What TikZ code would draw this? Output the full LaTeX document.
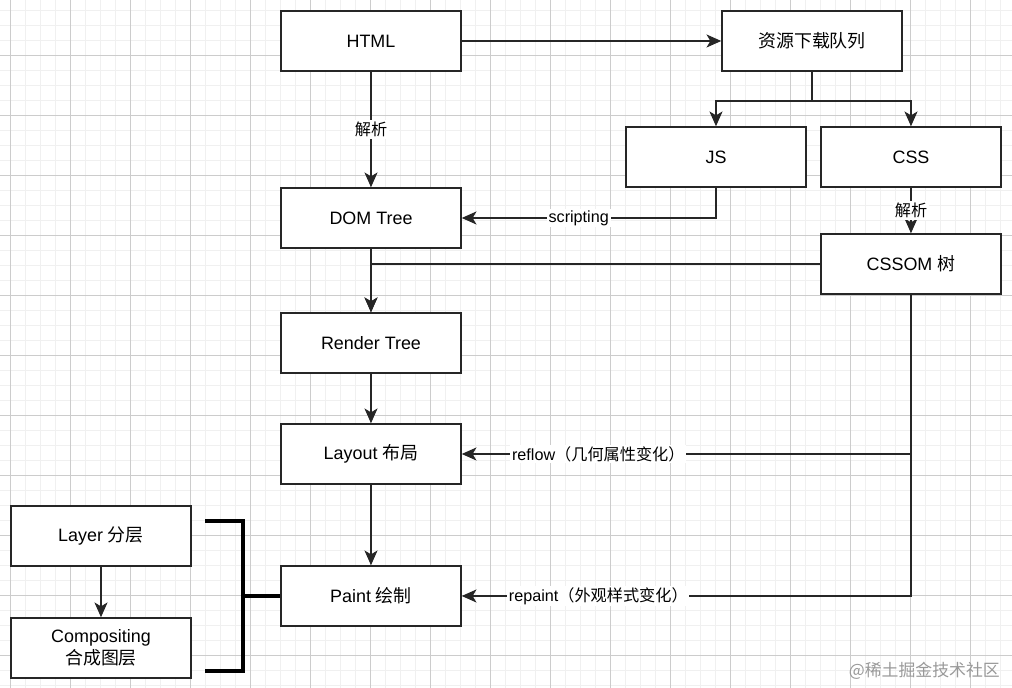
\documentclass[tikz,border=0pt]{standalone}
\usepackage{fontspec}
\setmainfont{Liberation Sans}
\newfontfamily\cjk{Noto Sans CJK SC}
\usetikzlibrary{calc}
\usetikzlibrary{arrows.meta}

\begin{document}
\begin{tikzpicture}[
		x=0.02cm, y=-0.02cm,
		>={Stealth[length=8.4pt,width=7.4pt,inset=2.2pt]},
		box/.style={draw=black!85, line width=0.85pt, fill=white, minimum width=3.6cm, minimum height=1.2cm, align=center, font=\fontsize{10.2pt}{12.5pt}\selectfont},
		flow/.style={draw=black!85, line width=0.85pt},
		tag/.style={fill=white, inner sep=1pt, font=\fontsize{9.2pt}{11pt}\selectfont},
		bracket/.style={black, line width=1.9pt},
		minor/.style={black!6, line width=0.5pt},
		major/.style={black!20, line width=0.5pt},
	]
	\useasboundingbox (0,0) rectangle (1012,688);
	\fill[white] (0,0) rectangle (1012,688);
	\foreach \i in {0,...,66} \draw[minor] (10+15*\i,0) -- (10+15*\i,688);
	\foreach \j in {0,...,45} \draw[minor] (0,10+15*\j) -- (1012,10+15*\j);
	\foreach \i in {0,...,16} \draw[major] (10+60*\i,0) -- (10+60*\i,688);
	\foreach \j in {1,...,11} \draw[major] (0,-5+60*\j) -- (1012,-5+60*\j);
	\node[box] (html) at (371,41) {HTML};
	\node[box] (queue) at (812,41) {\cjk 资源下载队列};
	\node[box] (js) at (716,157) {JS};
	\node[box] (css) at (911,157) {CSS};
	\node[box] (dom) at (371,218) {DOM Tree};
	\node[box] (cssom) at (911,264) {CSSOM {\cjk 树}};
	\node[box] (render) at (371,343) {Render Tree};
	\node[box] (layout) at (371,454) {Layout {\cjk 布局}};
	\node[box] (paint) at (371,596) {Paint {\cjk 绘制}};
	\node[box] (layer) at (101,536) {Layer {\cjk 分层}};
	\node[box] (comp) at (101,648) {Compositing\\{\cjk 合成图层}};
	\coordinate (split) at (812,101);
	\coordinate (fork) at (911,454);
	\coordinate (bt) at (205,521);
	\coordinate (bb) at (205,671);
	\coordinate (bm) at (243,596);
	\draw[flow,->] (html) -- (queue);
	\draw[flow,->] (html) -- node[tag] {\cjk 解析} (dom);
	\draw[flow] (queue) -- (split);
	\draw[flow,->] (split) -| (js);
	\draw[flow,->] (split) -| (css);
	\draw[flow,->] (js) |- node[tag,pos=0.77] {scripting} (dom);
	\draw[flow,->] (css) -- node[tag] {\cjk 解析} (cssom);
	\draw[flow,->] (cssom) -| (render);
	\draw[flow,->] (dom) -- (render);
	\draw[flow,->] (render) -- (layout);
	\draw[flow,->] (layout) -- (paint);
	\draw[flow,->] (cssom) |- node[tag,pos=0.848] {reflow{\cjk （几何属性变化）}} (layout);
	\draw[flow,->] (fork) |- node[tag,pos=0.848] {repaint{\cjk （外观样式变化）}} (paint);
	\draw[flow,->] (layer) -- (comp);
	\draw[bracket] (bt) -| (bm |- bb) -- (bb);
	\draw[bracket] (bm) -- (paint);
	\node[anchor=east, text=black!40, font=\cjk\fontsize{9.6pt}{11pt}\selectfont] (mark) at (1006,671) {@稀土掘金技术社区};
\end{tikzpicture}
\end{document}
